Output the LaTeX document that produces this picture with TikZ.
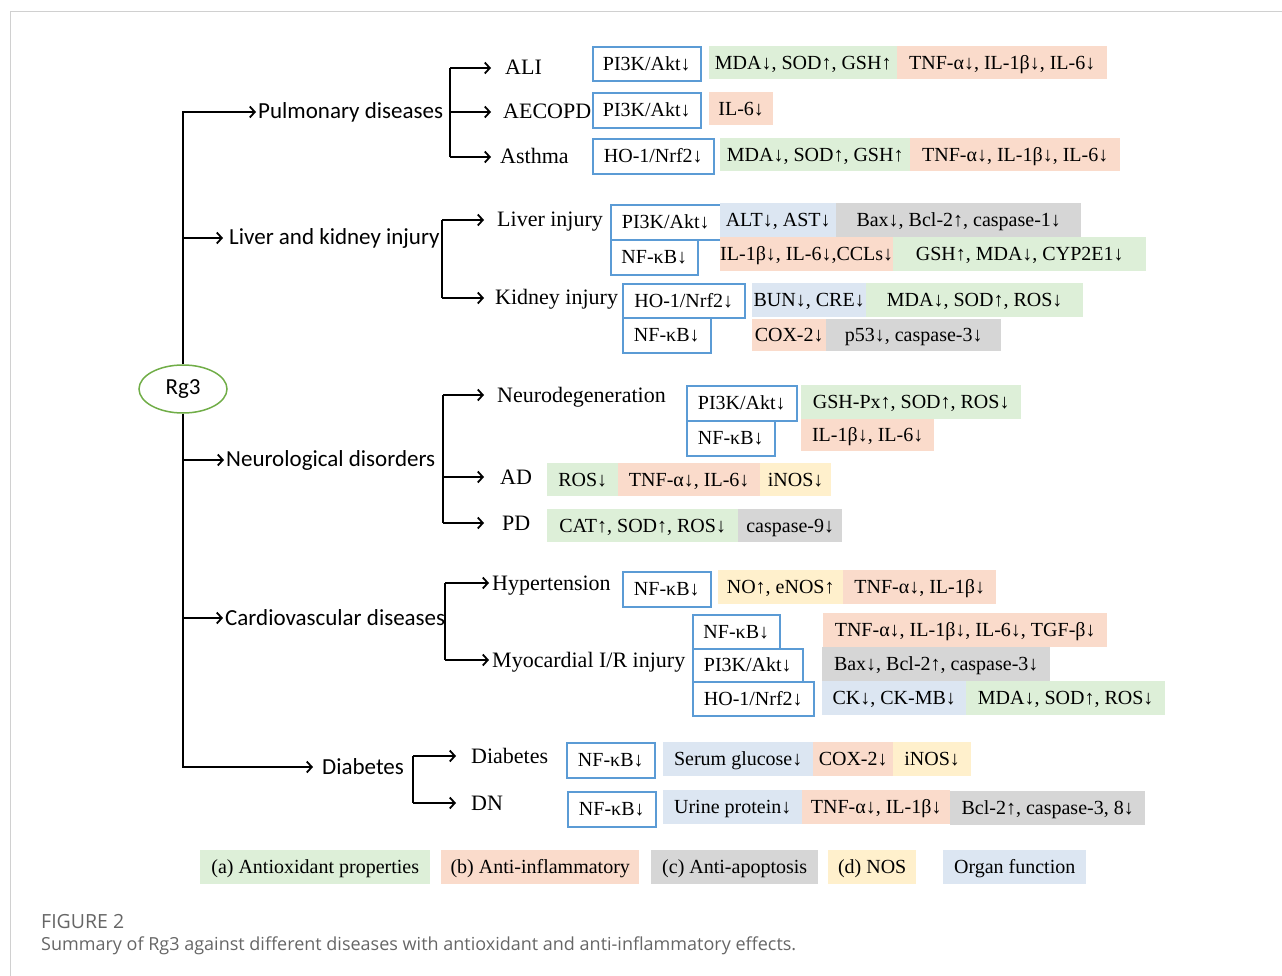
\documentclass[tikz,border=0pt]{standalone}
\usepackage{fontspec}
\setmainfont{Liberation Serif}
\newfontfamily\calfont{Carlito}
\newfontfamily\capfont{Open Sans}
\usetikzlibrary{arrows.meta,calc,shapes.geometric}
\definecolor{cg}{HTML}{DDEFD8}
\definecolor{cs}{HTML}{FADBCB}
\definecolor{cgr}{HTML}{D6D6D6}
\definecolor{cy}{HTML}{FFF0CC}
\definecolor{cb}{HTML}{DCE6F2}
\definecolor{ob}{HTML}{5B9BD5}
\definecolor{eg}{HTML}{70AD47}
\definecolor{framec}{HTML}{D0D0D0}
\definecolor{capc}{HTML}{666666}
\newcommand\bx[7]{\node[#2, minimum width={(#5-#3)*1pt}, minimum height={(#6-#4)*1pt}] (#1) at (#3,#4) {#7};}
\begin{document}
\begin{tikzpicture}[x=1pt,y=-1pt,
  arr/.style={line width=1.8pt, -{Straight Barb[length=5pt,width=11pt,line width=1.8pt]}},
  ln/.style={line width=1.8pt},
  cat/.style={font=\calfont\fontsize{23}{26}\selectfont, inner xsep=2pt, inner ysep=0pt, anchor=west},
  sub/.style={font=\fontsize{22}{26}\selectfont, inner sep=0pt, anchor=west, text height=15pt, text depth=1pt},
  cbox/.style={font=\fontsize{20}{24}\selectfont, inner sep=0pt, anchor=north west, text height=14pt, text depth=1pt},
  obox/.style={cbox, draw=ob, line width=1.6pt, fill=white},
  gbox/.style={cbox, fill=cg}, sbox/.style={cbox, fill=cs}, grbox/.style={cbox, fill=cgr},
  ybox/.style={cbox, fill=cy}, bbox/.style={cbox, fill=cb}
]
\useasboundingbox (0,0) rectangle (1282,976);
\draw[framec, line width=1pt] (10,976) -- (10,12) -- (1282,12);

% root
\node[draw=eg, ellipse, line width=1.5pt, minimum width=88pt, minimum height=48pt, inner sep=0pt,
  font=\calfont\fontsize{23}{26}\selectfont] (rg3) at (183,389) {Rg3};

% categories
\node[cat] (pul) at (256,112) {Pulmonary diseases};
\node[cat] (liv) at (227,238) {Liver and kidney injury};
\node[cat] (neu) at (224,460) {Neurological disorders};
\node[cat] (car) at (223,618) {Cardiovascular diseases};
\node[cat] (dia) at (320,767) {Diabetes};

\draw[arr] (rg3.north) |- (pul.west);
\draw[arr] (rg3.south) |- ([xshift=-7pt]dia.west);
\draw[arr] (rg3.north |- liv.west) -- ([xshift=-4pt]liv.west);
\draw[arr] (rg3.south |- neu.west) -- (neu.west);
\draw[arr] (rg3.south |- car.west) -- (car.west);

% sub labels
\node[sub] (ali) at (505,68) {ALI};
\node[sub] (aec) at (503,112) {AECOPD};
\node[sub] (ast) at (500,157) {Asthma};
\node[sub] (lvi) at (497,220) {Liver injury};
\node[sub] (kdi) at (495,298) {Kidney injury};
\node[sub] (ndg) at (497,395) {Neurodegeneration};
\node[sub] (ad) at (500,477) {AD};
\node[sub] (pd) at (502,523) {PD};
\node[sub] (hyp) at (492,583) {Hypertension};
\node[sub] (myo) at (492,660) {Myocardial I/R injury};
\node[sub] (dbs) at (471,756) {Diabetes};
\node[sub] (dn) at (471,803) {DN};

\coordinate (pb) at (450,112);
\coordinate (lb) at (442,238);
\coordinate (nb) at (443,460);
\coordinate (cbk) at (445,618);
\coordinate (db) at (413,767);

\draw[ln] (pb |- ali.west) -- (pb |- ast.west);
\draw[arr] (pb |- ali.west) -- ([xshift=-14pt]ali.west);
\draw[arr] (pb |- aec.west) -- ([xshift=-12pt]aec.west);
\draw[arr] (pb |- ast.west) -- ([xshift=-9pt]ast.west);

\draw[ln] (lb |- lvi.west) -- (lb |- kdi.west);
\draw[arr] (lb |- lvi.west) -- ([xshift=-13pt]lvi.west);
\draw[arr] (lb |- kdi.west) -- ([xshift=-11pt]kdi.west);

\draw[ln] (nb |- ndg.west) -- (nb |- pd.west);
\draw[arr] (nb |- ndg.west) -- ([xshift=-13pt]ndg.west);
\draw[arr] (nb |- ad.west) -- ([xshift=-16pt]ad.west);
\draw[arr] (nb |- pd.west) -- ([xshift=-18pt]pd.west);

\draw[ln] (cbk |- hyp.west) -- (cbk |- myo.west);
\draw[arr] (cbk |- hyp.west) -- ([xshift=-3pt]hyp.west);
\draw[arr] (cbk |- myo.west) -- ([xshift=-3pt]myo.west);

\draw[ln] (db |- dbs.west) -- (db |- dn.west);
\draw[arr] (db |- dbs.west) -- ([xshift=-15pt]dbs.west);
\draw[arr] (db |- dn.west) -- ([xshift=-15pt]dn.west);

% ALI
\bx{o1}{obox}{592}{46}{700}{80}{PI3K/Akt↓}
\bx{c1}{gbox}{709}{46}{897}{79}{MDA↓, SOD↑, GSH↑}
\bx{c2}{sbox}{897}{46}{1107}{79}{TNF-α↓, IL-1β↓, IL-6↓}
% AECOPD
\bx{o2}{obox}{592}{92}{700}{127}{PI3K/Akt↓}
\bx{c3}{sbox}{709}{92}{773}{125}{IL-6↓}
% Asthma
\bx{o3}{obox}{592}{138}{713}{173}{HO-1/Nrf2↓}
\bx{c4}{gbox}{720}{138}{910}{171}{MDA↓, SOD↑, GSH↑}
\bx{c5}{sbox}{910}{138}{1120}{171}{TNF-α↓, IL-1β↓, IL-6↓}
% Liver
\bx{o4}{obox}{610}{204}{720}{239}{PI3K/Akt↓}
\bx{o5}{obox}{610}{239}{697}{274}{NF-κB↓}
\bx{c6}{bbox}{720}{203}{836}{237}{ALT↓, AST↓}
\bx{c7}{grbox}{836}{203}{1081}{237}{Bax↓, Bcl-2↑, caspase-1↓}
\bx{c8}{sbox}{720}{237}{893}{271}{IL-1β↓, IL-6↓,CCLs↓}
\bx{c9}{gbox}{893}{237}{1146}{271}{GSH↑, MDA↓, CYP2E1↓}
% Kidney
\bx{o6}{obox}{622}{283}{744}{317}{HO-1/Nrf2↓}
\bx{o7}{obox}{622}{317}{710}{352}{NF-κB↓}
\bx{c10}{bbox}{752}{283}{866}{317}{BUN↓, CRE↓}
\bx{c11}{gbox}{866}{283}{1083}{317}{MDA↓, SOD↑, ROS↓}
\bx{c12}{sbox}{752}{319}{826}{351}{COX-2↓}
\bx{c13}{grbox}{826}{319}{1001}{351}{p53↓, caspase-3↓}
% Neurodegeneration
\bx{o8}{obox}{686}{385}{796}{420}{PI3K/Akt↓}
\bx{o9}{obox}{686}{420}{774}{455}{NF-κB↓}
\bx{c14}{gbox}{801}{385}{1021}{419}{GSH-Px↑, SOD↑, ROS↓}
\bx{c15}{sbox}{801}{419}{934}{451}{IL-1β↓, IL-6↓}
% AD
\bx{c16}{gbox}{547}{463}{618}{496}{ROS↓}
\bx{c17}{sbox}{618}{463}{760}{496}{TNF-α↓, IL-6↓}
\bx{c18}{ybox}{760}{463}{831}{496}{iNOS↓}
% PD
\bx{c19}{gbox}{547}{509}{738}{542}{CAT↑, SOD↑, ROS↓}
\bx{c20}{grbox}{738}{509}{842}{542}{caspase-9↓}
% Hypertension
\bx{o10}{obox}{622}{571}{710}{606}{NF-κB↓}
\bx{c21}{ybox}{718}{570}{843}{604}{NO↑, eNOS↑}
\bx{c22}{sbox}{843}{570}{996}{604}{TNF-α↓, IL-1β↓}
% Myocardial
\bx{o11}{obox}{692}{614}{779}{648}{NF-κB↓}
\bx{o12}{obox}{692}{648}{802}{681}{PI3K/Akt↓}
\bx{o13}{obox}{692}{681}{813}{715}{HO-1/Nrf2↓}
\bx{c23}{sbox}{823}{613}{1107}{647}{TNF-α↓, IL-1β↓, IL-6↓, TGF-β↓}
\bx{c24}{grbox}{822}{647}{1050}{681}{Bax↓, Bcl-2↑, caspase-3↓}
\bx{c25}{bbox}{822}{681}{966}{715}{CK↓, CK-MB↓}
\bx{c26}{gbox}{966}{681}{1165}{715}{MDA↓, SOD↑, ROS↓}
% Diabetes
\bx{o14}{obox}{566}{742}{654}{777}{NF-κB↓}
\bx{c27}{bbox}{663}{742}{813}{776}{Serum glucose↓}
\bx{c28}{sbox}{813}{742}{893}{776}{COX-2↓}
\bx{c29}{ybox}{893}{742}{971}{776}{iNOS↓}
% DN
\bx{o15}{obox}{567}{791}{655}{826}{NF-κB↓}
\bx{c30}{bbox}{663}{790}{802}{824}{Urine protein↓}
\bx{c31}{sbox}{802}{790}{950}{824}{TNF-α↓, IL-1β↓}
\bx{c32}{grbox}{950}{791}{1145}{825}{Bcl-2↑, caspase-3, 8↓}
% legend
\bx{l1}{gbox}{200}{850}{430}{884}{(a) Antioxidant properties}
\bx{l2}{sbox}{441}{850}{639}{884}{(b) Anti-inflammatory}
\bx{l3}{grbox}{651}{850}{818}{884}{(c) Anti-apoptosis}
\bx{l4}{ybox}{828}{850}{916}{884}{(d) NOS}
\bx{l5}{bbox}{943}{850}{1086}{884}{Organ function}

% caption
\node[anchor=west, inner sep=0pt, text=capc, font=\capfont\fontsize{19.5}{22}\selectfont] (fig) at (41,922) {FIGURE 2};
\node[anchor=west, inner sep=0pt, text=capc, font=\capfont\fontsize{18}{22}\selectfont] (capt) at (41,946) {Summary of Rg3 against different diseases with antioxidant and anti-inflammatory effects.};
\end{tikzpicture}
\end{document}
